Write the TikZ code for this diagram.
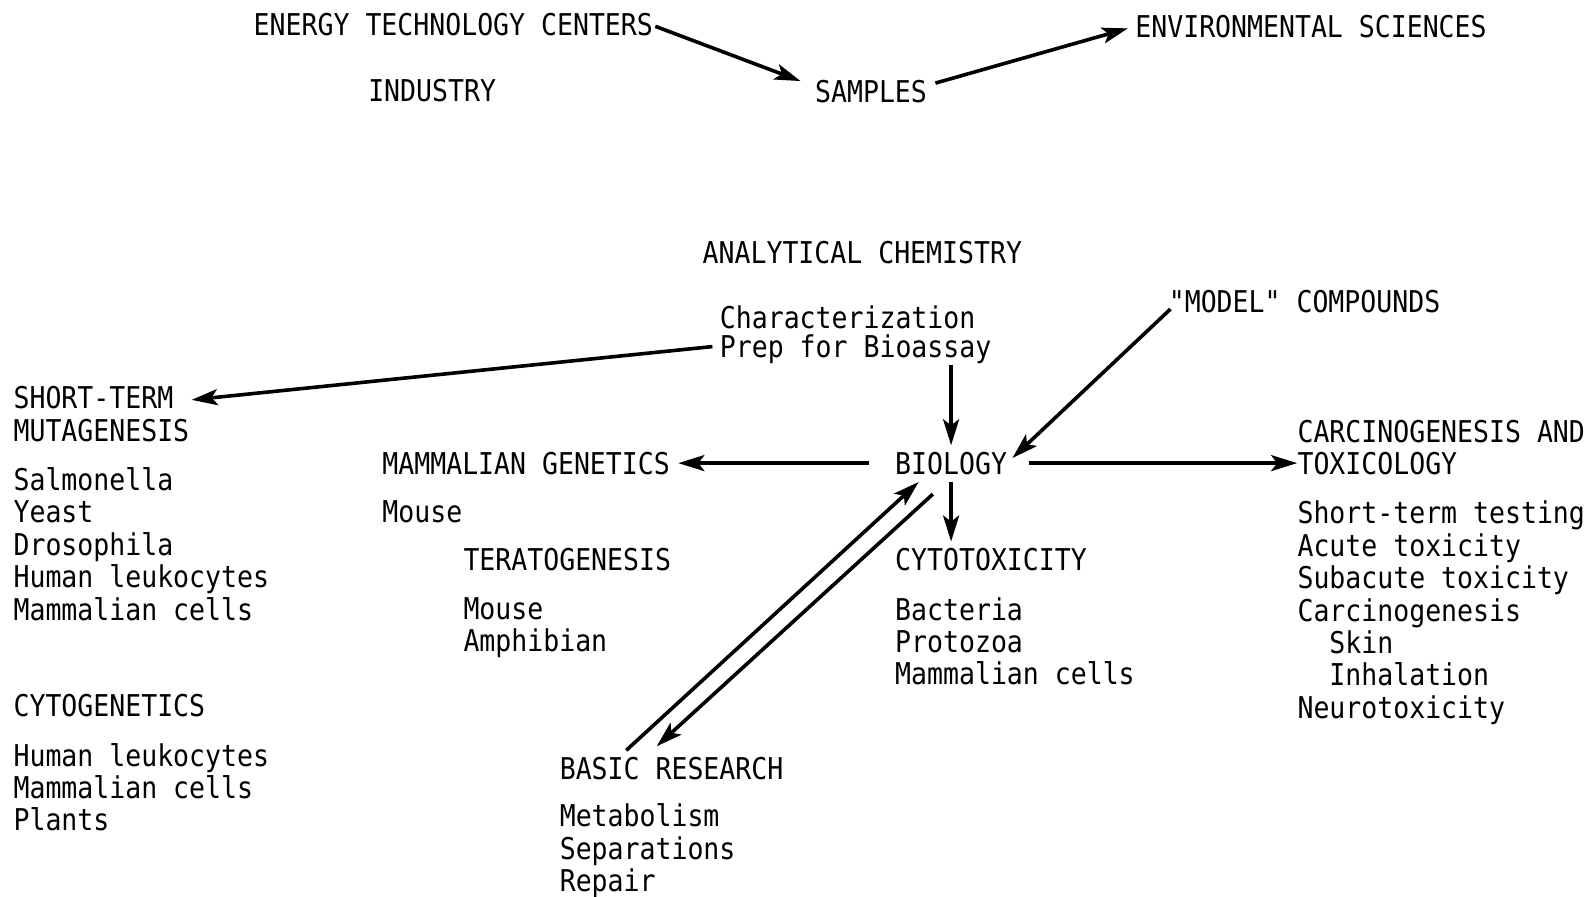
\documentclass[tikz,border=0pt]{standalone}
\usepackage{fontspec}
\setmonofont{DejaVu Sans Mono}[FakeStretch=0.884]
\usetikzlibrary{arrows.meta, positioning}

\begin{document}
\begin{tikzpicture}[x=0.5067pt,y=-0.5067pt,
	lbl/.style={font=\ttfamily\fontsize{15}{16.2}\selectfont, inner sep=0pt, anchor=west},
	blk/.style={lbl, align=left, anchor=north west},
	arr/.style={-{Stealth[length=13pt,width=8pt,inset=3pt]}, line width=1.8pt}]
			\path[use as bounding box, fill=white] (0,0) rectangle (1568,885);
			\node[lbl] (etc) at (250,24) {ENERGY TECHNOLOGY CENTERS};
			\node[lbl] (industry) at (363,89) {INDUSTRY};
			\node[lbl] (samples) at (804,90) {SAMPLES};
			\node[lbl] (envsci) at (1120,26) {ENVIRONMENTAL SCIENCES};
			\node[lbl] (anchem) at (693,249) {ANALYTICAL CHEMISTRY};
			\node[lbl] (charact) at (710,313) {Characterization};
			\node[lbl] (prep) at (710,345) {Prep for Bioassay};
			\node[lbl] (model) at (1153,298) {"MODEL" COMPOUNDS};
			\node[blk] (shortterm) at (13,381) {SHORT-TERM\\MUTAGENESIS};
			\node[blk] (mutalist) at (13,461) {Salmonella\\Yeast\\Drosophila\\Human leukocytes\\Mammalian cells};
			\node[lbl] (cytogen) at (13,696) {CYTOGENETICS};
			\node[blk] (cytolist) at (13,733) {Human leukocytes\\Mammalian cells\\Plants};
			\node[lbl] (mamgen) at (377,457) {MAMMALIAN GENETICS};
			\node[lbl] (mamlist) at (377,505) {Mouse};
			\node[lbl] (terato) at (457,552) {TERATOGENESIS};
			\node[blk] (teratolist) at (457,589) {Mouse\\Amphibian};
			\node[lbl] (biology) at (883,457) {BIOLOGY};
			\node[lbl] (cytotox) at (883,552) {CYTOTOXICITY};
			\node[blk] (cytotoxlist) at (883,589) {Bacteria\\Protozoa\\Mammalian cells};
			\node[blk] (carc) at (1280,414) {CARCINOGENESIS AND\\TOXICOLOGY};
			\node[blk] (carclist) at (1280,494) {Short-term testing\\Acute toxicity\\Subacute toxicity\\Carcinogenesis\\\phantom{Ca}Skin\\\phantom{Ca}Inhalation\\Neurotoxicity};
			\node[lbl] (basic) at (552,758) {BASIC RESEARCH};
			\node[blk] (basiclist) at (552,793) {Metabolism\\Separations\\Repair};
			\coordinate (bioN) at ([shift={(0,-6)}]biology.north);
			\coordinate (bioS) at ([shift={(0,7)}]biology.south);
			\coordinate (cytoN) at ([shift={(0,-6)}]cytotox.north);
			\path[arr]
				([shift={(2,2)}]etc.east) edge ([shift={(-14,-10)}]samples.west)
				([shift={(8,-8)}]samples.east) edge ([shift={(-7,2)}]envsci.west)
				([shift={(-7,-3)}]prep.west) edge ([shift={(2,-14)}]shortterm.east)
				(bioN |- prep.south) edge (bioN)
				([shift={(2,7)}]model.west) edge ([shift={(5,-5)}]biology.east)
				([shift={(-25,0)}]biology.west) edge ([shift={(8,0)}]mamgen.east)
				([shift={(21,0)}]biology.east) edge (biology.east -| carc.west)
				(bioS) edge (bioS |- cytoN)
				([shift={(66,-6)}]basic.north west) edge ([shift={(-32,7)}]biology.south)
				([shift={(-18,19)}]biology.south) edge ([shift={(96,-10)}]basic.north west);
		\end{tikzpicture}
\end{document}
